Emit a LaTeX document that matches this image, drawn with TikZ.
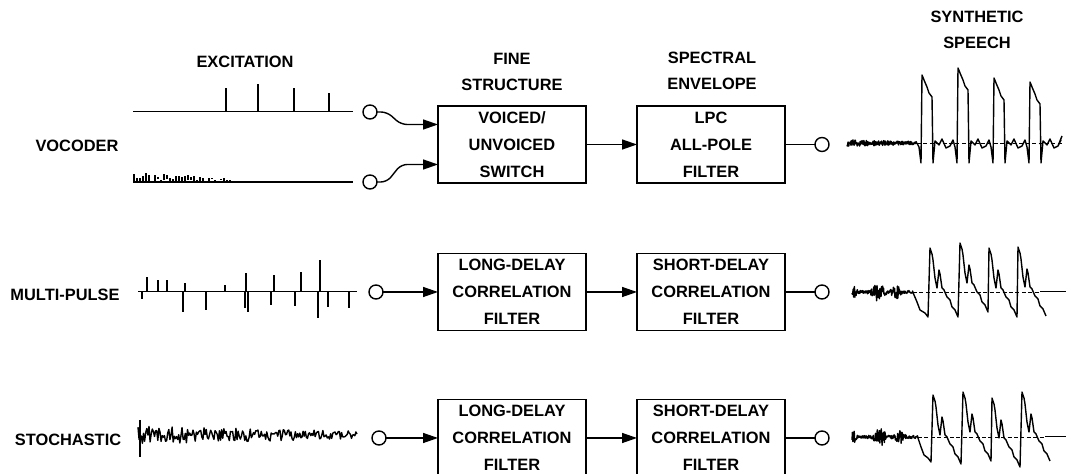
\documentclass[tikz,border=0pt]{standalone}
\usepackage{fontspec}
\setmainfont{Liberation Sans}
\usetikzlibrary{arrows.meta,positioning}

\begin{document}
\begin{tikzpicture}[x=0.5pt,y=-0.5pt,
      every node/.style={font=\fontsize{8.2}{13}\selectfont\bfseries,inner sep=0pt,outer sep=0pt,align=center},
      block/.style={draw,line width=0.9pt,minimum width=74pt,minimum height=38.5pt,font=\fontsize{8.2}{13.5}\selectfont\bfseries},
      tap/.style={draw,circle,line width=0.7pt,minimum size=7pt},
      flow/.style={-{Triangle[length=7.5pt,width=5pt]},line width=0.7pt},
      link/.style={line width=0.7pt},
      wire/.style={line width=0.5pt},
      pulse/.style={line width=0.9pt},
      trace/.style={line width=0.7pt,line join=round},
      axis/.style={line width=0.35pt,dash pattern=on 2pt off 1.2pt}]
    \useasboundingbox (0,0) rectangle (1067,474);
    \pgfmathsetseed{4242}

    \node (exc) at (245,62) {EXCITATION};
    \node (fine) at (512,72) {FINE\\STRUCTURE};
    \node (spec) at (712,71) {SPECTRAL\\ENVELOPE};
    \node (synth) at (977,30) {SYNTHETIC\\SPEECH};

    \node (voc) at (77,146) {VOCODER};
    \node (mp) at (65,295) {MULTI-PULSE};
    \node (sto) at (68,440) {STOCHASTIC};

    \node[block] (vuv) at (512,144.5) {VOICED/\\UNVOICED\\SWITCH};
    \node[block,right=25.5pt of vuv] (lpc) {LPC\\ALL-POLE\\FILTER};
    \node[tap,right=15pt of lpc] (outA) {};
    \node[tap] (vsw) at (370,112) {};
    \node[tap] (usw) at (370,182) {};
    \draw[flow,rounded corners=3pt] (vsw.east) -- ++(10,0) -- ++(14,12.5) -- ([yshift=10pt]vuv.west);
    \draw[flow,rounded corners=3pt] (usw.east) -- ++(10,0) -- ++(14,-17.5) -- ([yshift=-10pt]vuv.west);
    \draw[flow] (vuv) -- (lpc);
    \draw[link] (lpc) -- (outA);

    \node[block] (ldB) at (512,292) {LONG-DELAY\\CORRELATION\\FILTER};
    \node[block,right=25.5pt of ldB] (sdB) {SHORT-DELAY\\CORRELATION\\FILTER};
    \node[tap,right=15pt of sdB] (outB) {};
    \node[tap] (inB) at (376,292) {};
    \draw[flow] (inB) -- (ldB);
    \draw[flow] (ldB) -- (sdB);
    \draw[link] (sdB) -- (outB);

    \node[block] (ldC) at (512,438) {LONG-DELAY\\CORRELATION\\FILTER};
    \node[block,right=25.5pt of ldC] (sdC) {SHORT-DELAY\\CORRELATION\\FILTER};
    \node[tap,right=15pt of sdC] (outC) {};
    \node[tap] (inC) at (379,438) {};
    \draw[flow] (inC) -- (ldC);
    \draw[flow] (ldC) -- (sdC);
    \draw[link] (sdC) -- (outC);

    \draw[wire] (133,112) -- (353,112);
    \foreach \px/\py in {226/88,258/84,294/88,329/93}
      \draw[pulse] (\px,112) -- (\px,\py);
    \draw[link] (133,182) -- (353,182);
    \foreach \px in {134,137,...,232}
      \draw[pulse] (\px,{182+1-6*rnd*rnd}) -- (\px,{182-1-9*rnd*(1-(\px-133)/180)});

    \draw[wire] (138,292) -- (357,292);
    \foreach \px/\py in {142/299,147/277,158/280,167/280,183/312,185/283,206/310,225/285,246/273,245/308,248/312,271/305,274/275,295/306,301/272,318/318,320/260,328/307,349/308}
      \draw[pulse] (\px,292) -- (\px,\py);

    \draw[trace] (140,420) -- (140,457);
    \draw[trace] plot[domain=138:357,samples=200] (\x,{435+(9-5*(\x-138)/219)*rand});

    \draw[axis] (917,143) -- (1062,143);
    \draw[trace] plot[domain=847:917,samples=200] (\x,{143+(3.5-2*(\x-847)/70)*rand})
      \foreach \r/\t in {922/75,958/68,994/78,1030/82}{
        -- (\r-3,147) -- (\r-1,163) -- (\r,\t) -- (\r+2,\t+5) -- (\r+5,\t+12) -- (\r+7,\t+18)
        -- (\r+10,\t+22) -- (\r+11,163) -- (\r+13,141) -- (\r+17,145) -- (\r+20,139)
        -- (\r+24,148) -- (\r+28,146) -- (\r+31,140)}
      -- (1058,146) -- (1062,136);

    \draw[axis] (913,292) -- (1040,292);
    \draw[wire] (1040,292) -- (1066,292);
    \draw[trace] plot[domain=852:913,samples=150] (\x,{292+(1.5+8*exp(0-((\x-878)/6)^2)+6*exp(0-((\x-896)/4)^2)+5*exp(0-((\x-854)/2.5)^2))*rand})
      -- (917,302) -- (920,310) -- (925,313) -- (928,317)
      \foreach \r/\t in {930/248,960/243,989/248,1018/247}{
        -- (\r,\t) -- (\r+2,\t+6) -- (\r+3,\t+12) -- (\r+5,\t+30) -- (\r+7,\t+40) -- (\r+9,\t+22)
        -- (\r+10,\t+26) -- (\r+12,\t+40) -- (\r+14,\t+42) -- (\r+17,\t+49) -- (\r+20,\t+52)
        -- (\r+22,\t+59) -- (\r+25,\t+62) -- (\r+28,\t+69)};

    \draw[axis] (918,437) -- (1045,437);
    \draw[wire] (1045,437) -- (1066,437);
    \draw[trace] plot[domain=852:918,samples=150] (\x,{437+(1.5+8*exp(0-((\x-880)/6)^2)+6*exp(0-((\x-900)/4)^2)+5*exp(0-((\x-854)/2.5)^2))*rand})
      -- (921,447) -- (924,455) -- (928,458) -- (931,462)
      \foreach \r/\t in {933/395,963/392,992/398,1022/392}{
        -- (\r,\t) -- (\r+2,\t+6) -- (\r+3,\t+12) -- (\r+5,\t+30) -- (\r+7,\t+40) -- (\r+9,\t+22)
        -- (\r+10,\t+26) -- (\r+12,\t+40) -- (\r+14,\t+42) -- (\r+17,\t+49) -- (\r+20,\t+52)
        -- (\r+22,\t+59) -- (\r+25,\t+62) -- (\r+28,\t+69)};
  \end{tikzpicture}
\end{document}
